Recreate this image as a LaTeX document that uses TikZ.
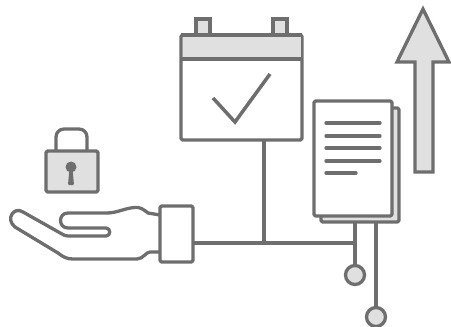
\documentclass[tikz,border=0pt]{standalone}
\usepackage{tikz}
\usetikzlibrary{positioning,calc}

\definecolor{strokegray}{HTML}{6E6E6E}
\definecolor{fillgray}{HTML}{E0E0E0}

\tikzset{
  line/.style={draw=strokegray,line width=3.3pt,line join=round},
  box/.style={line,rectangle,rounded corners=1.5pt,inner sep=0pt,outer sep=0pt,fill=#1},
  box/.default=white,
  tabbox/.style={line,rectangle,line join=miter,inner sep=0pt,outer sep=0pt,fill=fillgray,minimum width=14pt,minimum height=18pt},
  dot/.style={line,circle,fill=fillgray,minimum size=19pt,inner sep=0pt,outer sep=0pt},
  textline/.style={line,line cap=round}
}

\begin{document}
\begin{tikzpicture}[x=1pt,y=-1pt]
        \useasboundingbox (0,0) rectangle (451,327);

        % Pfeil
        \draw[line,line join=miter,fill=fillgray] (423,9) -- (449,62) -- (433,62) -- (433,172) -- (415,172) -- (415,62) -- (397,62) -- cycle;

        % Kalender
        \node[tabbox] (tabL) at (203,28) {};
        \node[tabbox] (tabR) at (280,28) {};
        \node[box,minimum width=121pt,minimum height=105pt] (calendar) at (241.5,87.5) {};
        \fill[fillgray] ([shift={(1.5,1.5)}]calendar.north west) rectangle ([xshift=-1.5pt]calendar.east |- 0,59);
        \draw[line] (calendar.west |- 0,59) -- (calendar.east |- 0,59);
        \draw[line] (calendar.north west) -- (calendar.north east);
        \draw[line,line width=3.5pt,line join=miter] (213,98) -- (235,122) -- (270,74);

        % Dokumente
        \node[box=fillgray,minimum width=78pt,minimum height=114pt] (docBack) at (360,165) {};
        \node[box,minimum width=78pt,minimum height=115pt] (docFront) at (353,158.5) {};
        \foreach \yy in {123,136,148,161} {
          \draw[textline] (326,\yy) -- (380,\yy);
        }
        \draw[textline] (326,173) -- (356,173);

        % Schloss
        \draw[line,rounded corners=8pt] (56,151) -- (56,129) -- (87,129) -- (87,151);
        \node[box=fillgray,minimum width=52pt,minimum height=41pt] (lock) at (72,171.5) {};
        \fill[strokegray] (71,167) circle (5.5pt);
        \fill[strokegray,rounded corners=1pt] (69.5,168) -- (72.5,168) -- (74,185) -- (68,185) -- cycle;

        % Hand
        \node[box,minimum width=33pt,minimum height=56pt] (cuff) at (176.5,234) {};
        \draw[line] (cuff.west |- 0,215) -- (148,213) .. controls (143,209) and (140,207) .. (135,207.5)
          .. controls (125,208) and (117,213) .. (107,213) -- (68,213)
          .. controls (58,213) and (58,228) .. (68,228) -- (106,228)
          .. controls (111,228) and (111,236) .. (106,236) -- (68,236)
          .. controls (65,236) and (64,235) .. (62,234) -- (23,212)
          .. controls (14,206) and (5,219) .. (15,227) -- (58,253)
          .. controls (63,257) and (67,259) .. (73,259) -- (137,259)
          .. controls (143,259) and (146,252) .. (150,252) -- (cuff.west |- 0,252);

        % Verbindungen
        \node[dot] (dotA) at (355,275) {};
        \node[dot] (dotB) at (376,317) {};
        \coordinate (joint) at (355,243);
        \draw[line] (cuff.east |- joint) -- (joint);
        \draw[line] (calendar.south -| 264,0) -- (264,243);
        \draw[line] (docBack.south -| dotA) -- (dotA.north);
        \draw[line] (docBack.south -| dotB) -- (dotB.north);
      \end{tikzpicture}
\end{document}
